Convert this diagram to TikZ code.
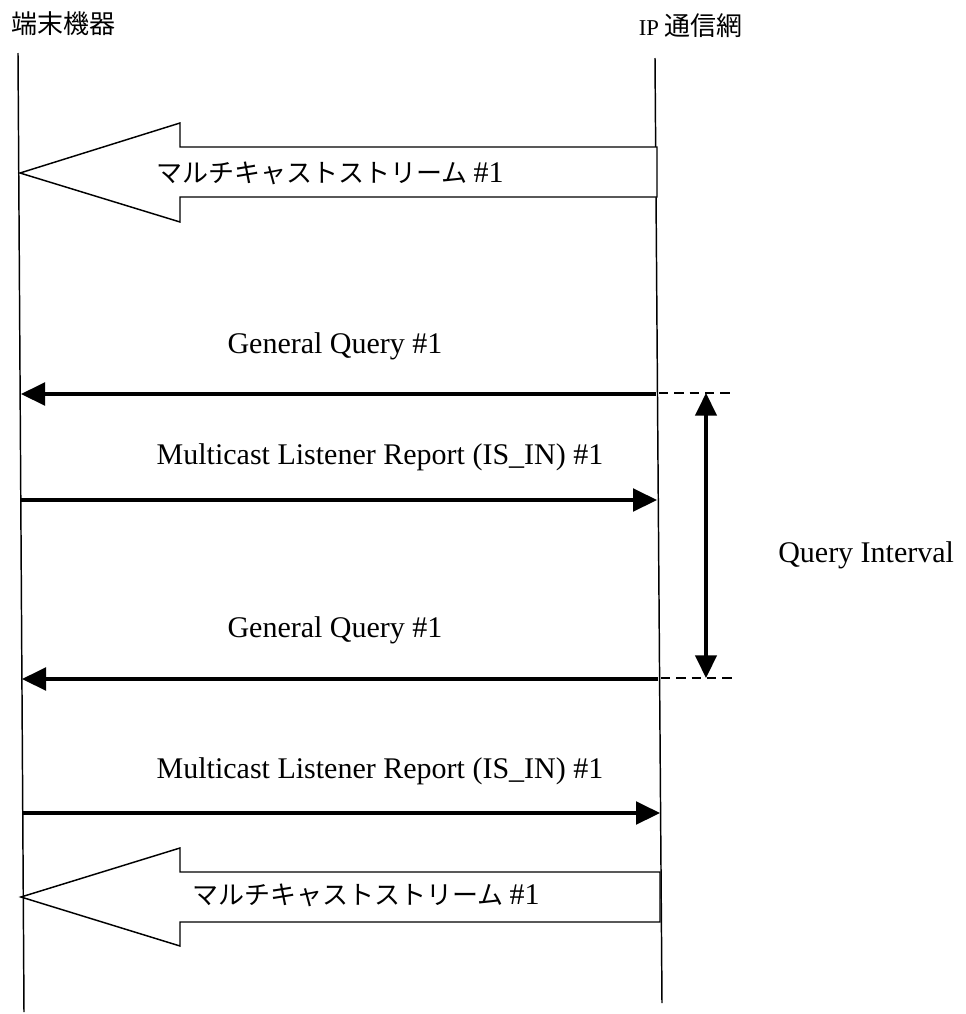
\documentclass[tikz,border=0pt]{standalone}
\usepackage{fontspec}
\setmainfont{Liberation Serif}
\newfontfamily\jpfont{Noto Sans CJK JP}
\usetikzlibrary{arrows.meta}

\tikzset{
  lifeline/.style={line width=1.1pt},
  msg/.style={line width=2.6pt,-{Triangle[length=18pt,width=17pt]}},
  interval/.style={line width=2.6pt,{Triangle[length=17pt,width=16pt]}-{Triangle[length=17pt,width=16pt]}},
  guide/.style={line width=1.2pt,dash pattern={on 7pt off 4.5pt}},
  blockarrow/.style={line width=1.1pt,fill=white},
  lbl/.style={inner sep=0.75pt,font=\fontsize{22.5}{26}\selectfont},
  jplbl/.style={inner sep=0.75pt,font=\jpfont\fontsize{19.5}{24}\selectfont},
}

\begin{document}
\begin{tikzpicture}[x=0.75pt,y=0.75pt,yscale=-1,xscale=1]
\useasboundingbox (0,0) rectangle (966,1014);

% lifelines
\coordinate (termTop) at (18,53);
\coordinate (termBot) at (24,1012);
\coordinate (netTop) at (655,58);
\coordinate (netBot) at (662,1003);
\draw [lifeline] (termTop) -- (termBot);
\draw [lifeline] (netTop) -- (netBot);

% Text Node
\node (term) [jplbl, anchor=west] at (10,24) {端末機器};
% Text Node
\node (net) [inner sep=0.75pt, anchor=east, font=\fontsize{17}{20}\selectfont] at (744,26) {IP {\jpfont\fontsize{19.5}{24}\selectfont 通信網}};

%Shape: Left Arrow (stream #1)
\draw [blockarrow] (20,173) -- (180,123) -- (180,147) -- (657,147) -- (657,197) -- (180,197) -- (180,222) -- cycle;
\node (stream1) [jplbl] at (330,173) {マルチキャストストリーム {\fontsize{22.5}{26}\selectfont\rmfamily\#1}};

% message endpoints
\coordinate (gq1R) at (656,394);
\coordinate (gq1L) at (21,394);
\coordinate (mlr1L) at (21,500);
\coordinate (mlr1R) at (657,500);
\coordinate (gq2R) at (658,679);
\coordinate (gq2L) at (22,679);
\coordinate (mlr2L) at (23,813);
\coordinate (mlr2R) at (660,813);

\draw [msg] (gq1R) -- (gq1L);
\node (gq1) [lbl] at (335,346) {General Query \#1};

\draw [msg] (mlr1L) -- (mlr1R);
\node (mlr1) [lbl] at (380,457) {Multicast Listener Report (IS\_IN) \#1};

\draw [msg] (gq2R) -- (gq2L);
\node (gq2) [lbl] at (335,630) {General Query \#1};

\draw [msg] (mlr2L) -- (mlr2R);
\node (mlr2) [lbl] at (380,771) {Multicast Listener Report (IS\_IN) \#1};

%Straight Lines (interval guides)
\coordinate (qiTop) at (706,393);
\coordinate (qiBot) at (706,678);
\draw [guide] (659,393) -- (735,393);
\draw [guide] (661,678) -- (735,678);
\draw [interval] (qiTop) -- (qiBot);
\node (qi) [lbl, anchor=west] at (777,555) {Query Interval};

%Shape: Left Arrow (stream #1)
\draw [blockarrow] (21,897) -- (180,848) -- (180,872) -- (660,872) -- (660,922) -- (180,922) -- (180,946) -- cycle;
\node (stream2) [jplbl] at (366,895) {マルチキャストストリーム {\fontsize{22.5}{26}\selectfont\rmfamily\#1}};

\end{tikzpicture}
\end{document}
